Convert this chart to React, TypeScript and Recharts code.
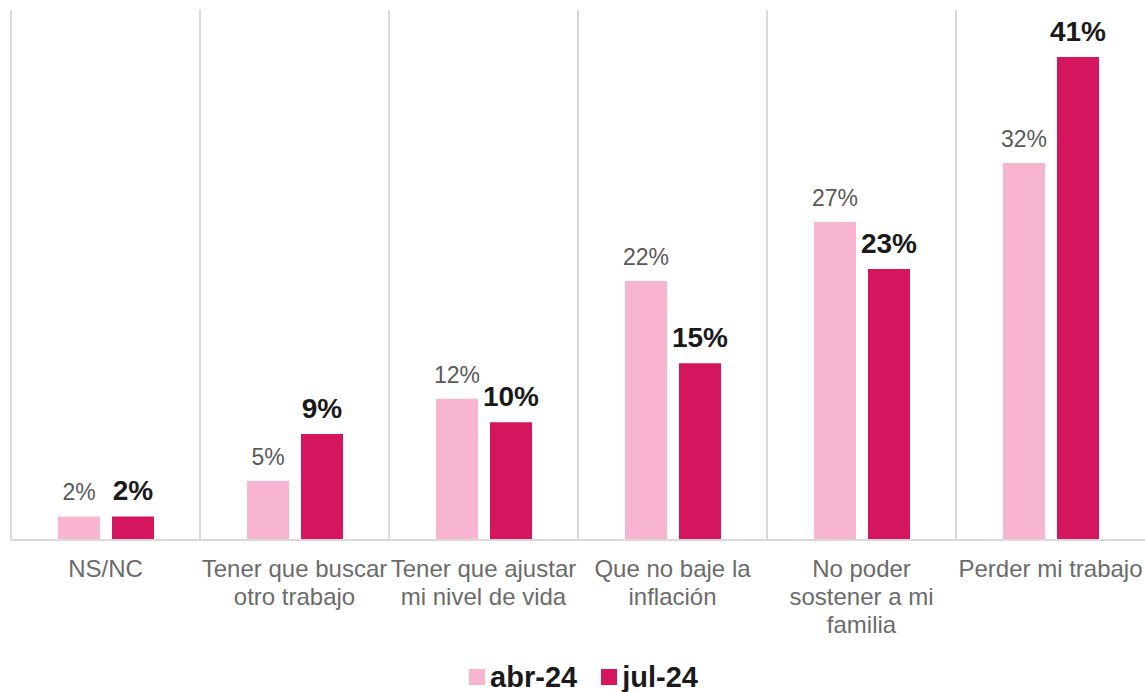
import { BarChart, Bar, XAxis, YAxis, CartesianGrid, LabelList, Legend } from 'recharts'

const categories = [
  'NS/NC',
  'Tener que buscar\notro trabajo',
  'Tener que ajustar\nmi nivel de vida',
  'Que no baje la\ninflación',
  'No poder\nsostener a mi\nfamilia',
  'Perder mi trabajo',
]
const abr24 = [2, 5, 12, 22, 27, 32]
const jul24 = [2, 9, 10, 15, 23, 41]

const PINK = '#f7b5cf'
const MAGENTA = '#d5155d'
const GRID = '#d9d9d9'
const FONT = '"Liberation Sans", Arial, sans-serif'

const data = categories.map((c, i) => ({ name: c, abr: abr24[i], jul: jul24[i] }))

// ── Tick with manual line breaks ─────────────────────────────────────────────
// eslint-disable-next-line @typescript-eslint/no-explicit-any
function CatTick({ x, y, payload }: any) {
  const lines = String(payload.value).split('\n')
  return (
    <text x={x} y={y} textAnchor="middle" fill="#6b6b6b" fontSize={24} fontFamily={FONT}>
      {lines.map((l, i) => (
        <tspan key={i} x={x} dy={i === 0 ? 29 : 28}>{l}</tspan>
      ))}
    </text>
  )
}

// ── Legend ───────────────────────────────────────────────────────────────────
function LegendBox() {
  const items = [
    { label: 'abr-24', color: PINK },
    { label: 'jul-24', color: MAGENTA },
  ]
  return (
    <div style={{ display: 'flex', justifyContent: 'center', alignItems: 'center', gap: 24, height: 32, paddingLeft: 22, fontFamily: FONT }}>
      {items.map(it => (
        <div key={it.label} style={{ display: 'flex', alignItems: 'center', gap: 5 }}>
          <span style={{ width: 16, height: 16, background: it.color, display: 'inline-block' }} />
          <span style={{ fontSize: 29, fontWeight: 700, color: '#1a1a1a' }}>{it.label}</span>
        </div>
      ))}
    </div>
  )
}

export default function App() {
  return (
    <div style={{ position: 'absolute', left: 0, top: 0, width: 1145, height: 692, background: '#fff' }}>
      <BarChart
        width={1145}
        height={692}
        data={data}
        margin={{ top: 10, right: 0, left: 11, bottom: 90 }}
        barSize={42}
        barGap={12}
      >
        <CartesianGrid
          horizontal={false}
          stroke={GRID}
          strokeWidth={2}
          // eslint-disable-next-line @typescript-eslint/no-explicit-any
          verticalCoordinatesGenerator={({ offset }: any) =>
            categories.map((_, i) => offset.left + (i * offset.width) / categories.length)
          }
        />
        <XAxis
          dataKey="name"
          axisLine={{ stroke: GRID, strokeWidth: 2 }}
          tickLine={false}
          interval={0}
          tick={<CatTick />}
        />
        <YAxis hide domain={[0, 45]} />
        <Legend
          verticalAlign="bottom"
          wrapperStyle={{ top: 661, left: 0, width: 1145 }}
          content={<LegendBox />}
        />
        <Bar dataKey="abr" fill={PINK} isAnimationActive={false}>
          <LabelList
            dataKey="abr"
            position="top"
            offset={16}
            formatter={(v: number) => `${v}%`}
            style={{ fill: '#595959', fontSize: 23, fontFamily: FONT }}
          />
        </Bar>
        <Bar dataKey="jul" fill={MAGENTA} isAnimationActive={false}>
          <LabelList
            dataKey="jul"
            position="top"
            offset={16}
            formatter={(v: number) => `${v}%`}
            style={{ fill: '#1a1a1a', fontSize: 28, fontWeight: 700, fontFamily: FONT }}
          />
        </Bar>
      </BarChart>
    </div>
  )
}
